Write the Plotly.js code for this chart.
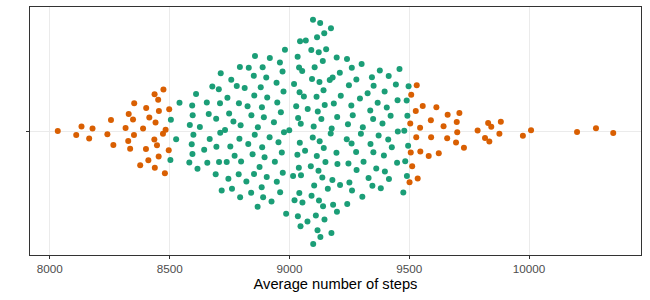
<!DOCTYPE html>
<html>
<head>
<meta charset="utf-8">
<script src="https://cdn.plot.ly/plotly-3.0.1.min.js"></script>
<style>html,body{margin:0;padding:0;background:#fff;}#chart{width:650px;height:300px;}</style>
</head>
<body>
<div id="chart"></div>
<script>
// Average daily steps outside the 8500-9500 band (orange)
const stepsAtypical = [
  8033, 8110, 8132, 8164, 8178, 8240, 8255, 8265, 8316, 8327, 8329, 8335, 8347, 8351, 8352,
  8377, 8389, 8401, 8402, 8411, 8415, 8436, 8437, 8438, 8441, 8447, 8452, 8454, 8455, 8472,
  8474, 8480, 8483, 8496, 8498,
  9501, 9504, 9506, 9508, 9512, 9527, 9529, 9531, 9535, 9545, 9546, 9556, 9581, 9590, 9591,
  9613, 9623, 9643, 9658, 9660, 9695, 9698, 9700, 9709, 9728, 9785, 9816, 9829, 9834, 9842,
  9876, 9882, 9974, 10008, 10200, 10279, 10351
];
// Average daily steps inside the 8500-9500 band (green)
const stepsTypical = [
  8503, 8505, 8527, 8541, 8592, 8595, 8584, 8599, 8610, 8626, 8594, 8596, 8582, 8616, 8644,
  8655, 8663, 8667, 8657, 8678, 8705, 8711, 8694, 8710, 8695, 8692, 8706, 8717, 8713, 8731,
  8856, 8918, 8981, 8960, 8793, 8830, 8888, 8971, 8757, 8852, 8903, 8780, 8813, 8880, 8947,
  8975, 8741, 8789, 8853, 8907, 8949, 8825, 8885, 8964, 8748, 8840, 8893, 8766, 8796, 8867,
  8935, 8977, 8999, 8791, 8855, 8917, 8954, 8753, 8828, 8886, 8968, 8771, 8846, 8896, 8738,
  8798, 8939, 8875, 8788, 8851, 8905, 8972, 8745, 8820, 8946, 8760, 8884, 8841, 8961, 8794,
  8890, 8925, 8868, 8986,
  9097, 9128, 9173, 9146, 9115, 9044, 9068, 9092, 9123, 9153, 9035, 9197, 9240, 9139, 9039,
  9053, 9105, 9210, 9259, 9019, 9094, 9125, 9168, 9180, 9248, 9040, 9060, 9143, 9113, 9214,
  9028, 9076, 9118, 9147, 9185, 9258, 9034, 9047, 9101, 9133, 9198, 9264, 9244, 9176, 9172,
  9098, 9126, 9239, 9260, 9043, 9033, 9065, 9142, 9114, 9196, 9041, 9089, 9150, 9200, 9246,
  9015, 9048, 9122, 9137, 9179, 9211, 9250, 9103, 9160, 9261, 9042, 9091, 9021, 9054, 9121,
  9140, 9182, 9241, 9199, 9036, 9110, 9075, 9145, 9046, 9117, 9175, 9129, 9099,
  9301, 9279, 9344, 9377, 9415, 9459, 9351, 9397, 9444, 9294, 9326, 9368, 9337, 9406, 9451,
  9489, 9497, 9350, 9388, 9422, 9492, 9306, 9298, 9372, 9412, 9452, 9479, 9338, 9427, 9495,
  9280, 9349, 9394, 9309, 9449, 9483, 9278, 9362, 9398, 9330, 9414, 9490, 9346, 9381, 9475,
  9304
];
const xTicks = [8000, 8500, 9000, 9500, 10000];
const xTitle = 'Average number of steps';
const colTypical = '#1b9e77';
const colAtypical = '#d95f02';

// ---- quasirandom (van der Corput) offsets, as in ggbeeswarm::geom_quasirandom ----
function vdc(i){ let q = 0, b = 0.5; while(i > 0){ q += (i & 1) * b; i >>= 1; b /= 2; } return q; }
function quantile(sorted, p){
  const h = (sorted.length - 1) * p, lo = Math.floor(h), hi = Math.ceil(h);
  return sorted[lo] + (h - lo) * (sorted[hi] - sorted[lo]);
}
const all = stepsAtypical.map(v => ({v, g: 'a'})).concat(stepsTypical.map(v => ({v, g: 't'})));
const vals = all.map(d => d.v);
const n = vals.length;
const mean = vals.reduce((a, b) => a + b, 0) / n;
const sd = Math.sqrt(vals.reduce((a, b) => a + (b - mean) * (b - mean), 0) / (n - 1));
const sortedVals = vals.slice().sort((a, b) => a - b);
const iqr = quantile(sortedVals, 0.75) - quantile(sortedVals, 0.25);
const bw = 0.9 * Math.min(sd, iqr / 1.34) * Math.pow(n, -0.2) * 0.5;
function dens(x){ let s = 0; for(const v of vals){ const z = (x - v) / bw; s += Math.exp(-0.5 * z * z); } return s; }
const dvals = vals.map(dens);
const dmax = Math.max(...dvals);
const order = all.map((d, i) => i).sort((a, b) => vals[a] - vals[b] || a - b);
const rank = new Array(n);
order.forEach((idx, r) => { rank[idx] = r + 1; });
const width = 0.575;
all.forEach((d, i) => { d.y = (vdc(rank[i]) - 0.5) * 2 * (dvals[i] / dmax) * width; });

const A = all.filter(d => d.g === 'a'), T = all.filter(d => d.g === 't');
const mk = c => ({color: c, size: 6, line: {width: 0}});
const traces = [
  {type: 'scatter', mode: 'markers', x: T.map(d => d.v), y: T.map(d => d.y), marker: mk(colTypical), hoverinfo: 'x', showlegend: false},
  {type: 'scatter', mode: 'markers', x: A.map(d => d.v), y: A.map(d => d.y), marker: mk(colAtypical), hoverinfo: 'x', showlegend: false}
];
const xmin = Math.min(...vals), xmax = Math.max(...vals), pad = (xmax - xmin) * 0.05;
const layout = {
  width: 650, height: 300,
  margin: {l: 30, r: 9, t: 7, b: 45},
  paper_bgcolor: '#ffffff', plot_bgcolor: '#ffffff',
  font: {family: '"Liberation Sans", Arial, sans-serif', color: '#4d4d4d'},
  xaxis: {
    range: [xmin - pad, xmax + pad], tickvals: xTicks, ticktext: xTicks.map(String),
    ticks: 'outside', ticklen: 3, tickwidth: 1, tickcolor: '#333333',
    tickfont: {size: 11.7, color: '#4d4d4d'},
    showgrid: true, gridcolor: '#ebebeb', gridwidth: 1, zeroline: false,
    showline: true, mirror: true, linecolor: '#333333', linewidth: 1,
    title: {text: xTitle, font: {size: 14.7, color: '#000000'}, standoff: 4}
  },
  yaxis: {
    range: [-0.6, 0.6], tickvals: [0], ticktext: [''],
    ticks: 'outside', ticklen: 3, tickwidth: 1, tickcolor: '#333333',
    showgrid: true, gridcolor: '#ebebeb', gridwidth: 1, zeroline: false,
    showline: true, mirror: true, linecolor: '#333333', linewidth: 1
  }
};
Plotly.newPlot('chart', traces, layout, {staticPlot: true, displayModeBar: false});
</script>
</body>
</html>
